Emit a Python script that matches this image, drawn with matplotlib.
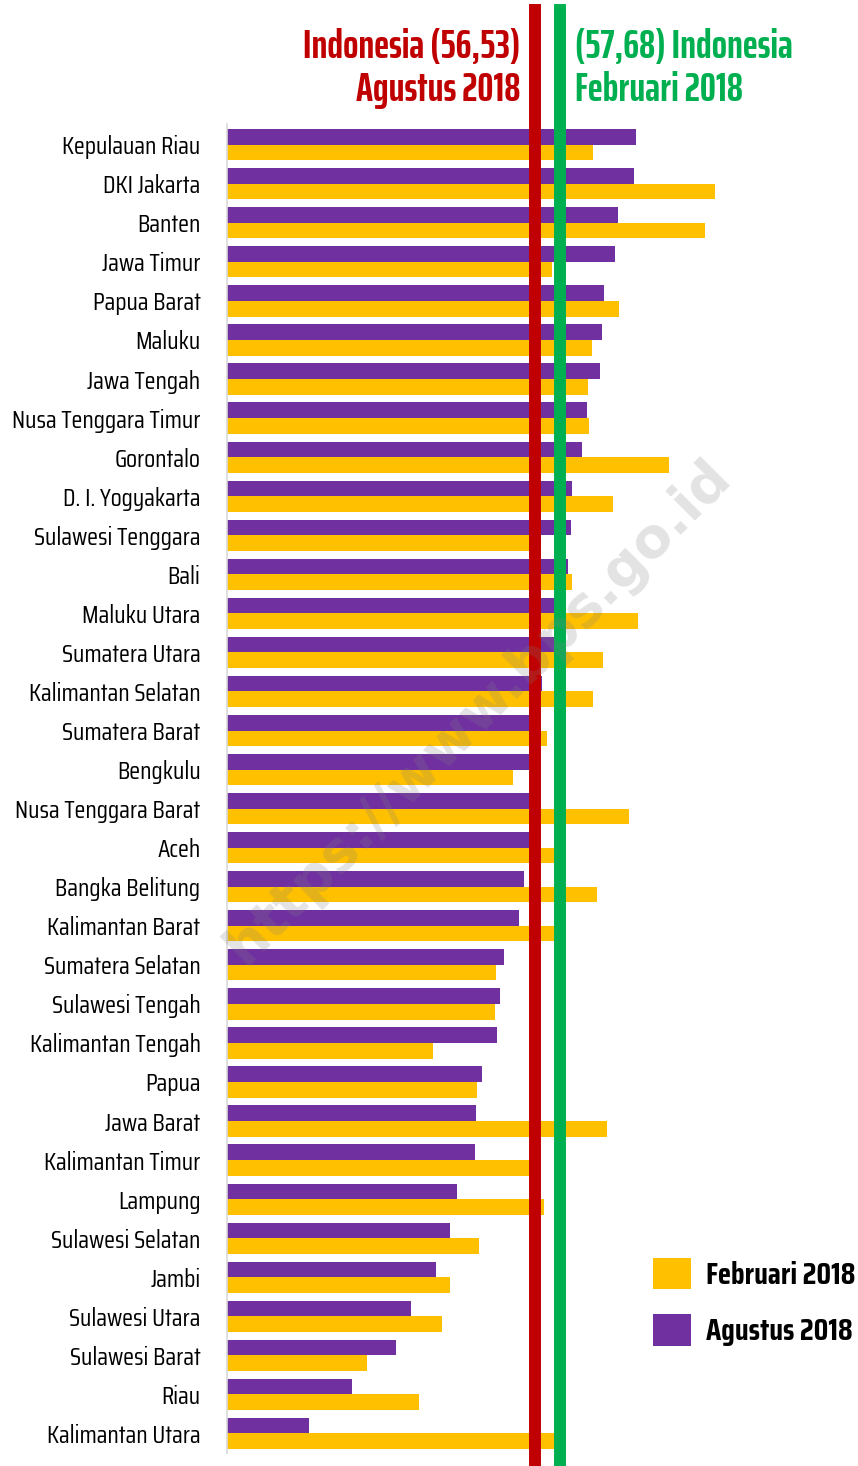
import matplotlib
matplotlib.use('Agg')
import matplotlib.pyplot as plt

provinces = ['Kepulauan Riau', 'DKI Jakarta', 'Banten', 'Jawa Timur', 'Papua Barat',
             'Maluku', 'Jawa Tengah', 'Nusa Tenggara Timur', 'Gorontalo', 'D. I. Yogyakarta',
             'Sulawesi Tenggara', 'Bali', 'Maluku Utara', 'Sumatera Utara', 'Kalimantan Selatan',
             'Sumatera Barat', 'Bengkulu', 'Nusa Tenggara Barat', 'Aceh', 'Bangka Belitung',
             'Kalimantan Barat', 'Sumatera Selatan', 'Sulawesi Tengah', 'Kalimantan Tengah', 'Papua',
             'Jawa Barat', 'Kalimantan Timur', 'Lampung', 'Sulawesi Selatan', 'Jambi',
             'Sulawesi Utara', 'Sulawesi Barat', 'Riau', 'Kalimantan Utara']

agustus = [61.13, 61.04, 60.29, 60.17, 59.67, 59.58, 59.48, 58.89, 58.68, 58.20,
           58.15, 58.04, 57.50, 57.45, 56.85, 56.50, 56.40, 56.40, 56.35, 56.04,
           55.82, 55.11, 54.94, 54.80, 54.13, 53.86, 53.82, 52.97, 52.65, 52.03,
           50.88, 50.20, 48.20, 46.27]

februari = [59.18, 64.71, 64.27, 57.30, 60.33, 59.12, 58.94, 59.00, 62.61, 60.06,
            56.80, 58.20, 61.23, 59.62, 59.18, 57.08, 55.52, 60.79, 57.50, 59.35,
            57.50, 54.76, 54.71, 51.89, 53.91, 59.80, 56.40, 56.94, 54.00, 52.65,
            52.29, 48.91, 51.27, 57.50]

indo_agustus = 56.53
indo_februari = 57.68

purple = '#7030A0'
yellow = '#FFC000'
red = '#C00000'
green = '#00B050'
narrow = ['Saira ExtraCondensed', 'DejaVu Sans']
cond = ['Saira Condensed', 'DejaVu Sans']

fig = plt.figure(figsize=(8.58, 14.66), dpi=100)
ax = fig.add_axes([227 / 858, 13 / 1466, 631 / 858, 1329 / 1466])

y = list(range(len(provinces)))
ba = ax.barh([i - 0.2 for i in y], agustus, height=0.4, color=purple, zorder=2)
bf = ax.barh([i + 0.2 for i in y], februari, height=0.4, color=yellow, zorder=2)

# national reference lines run over the whole figure height
ax.axvline(indo_agustus, ymin=-0.02, ymax=1.086, color=red, lw=8.6, clip_on=False, zorder=4)
ax.axvline(indo_februari, ymin=-0.02, ymax=1.086, color=green, lw=8.6, clip_on=False, zorder=4)

ax.set_xlim(42.53, 71.21)
ax.set_ylim(33.5, -0.53)
ax.set_yticks(y)
ax.set_yticklabels(provinces, family=cond, fontsize=18)
ax.tick_params(axis='y', length=0, pad=19)
ax.set_xticks([])
for s in ['top', 'right', 'bottom']:
    ax.spines[s].set_visible(False)
ax.spines['left'].set_color('#D9D9D9')
ax.spines['left'].set_linewidth(1.2)

title_font = dict(family=narrow, fontweight='bold', fontsize=29, va='center')
fig.text(520 / 858, 1 - 47 / 1466, 'Indonesia (56,53)', color=red, ha='right', **title_font)
fig.text(520 / 858, 1 - 90 / 1466, 'Agustus 2018', color=red, ha='right', **title_font)
fig.text(575 / 858, 1 - 47 / 1466, '(57,68) Indonesia', color=green, ha='left', **title_font)
fig.text(575 / 858, 1 - 90 / 1466, 'Februari 2018', color=green, ha='left', **title_font)

# watermark
fig.text(478 / 858, 1 - 712 / 1466, 'https://www.bps.go.id', color='gray', alpha=0.22,
         rotation=45, ha='center', va='center', fontsize=40, fontweight='bold', zorder=10)

fig.legend([bf, ba], ['Februari 2018', 'Agustus 2018'], loc='center left',
           bbox_to_anchor=(625 / 858, 1 - 1302 / 1466), frameon=False,
           prop={'family': cond, 'weight': 'bold', 'size': 22},
           handlelength=1.25, handleheight=1.2, labelspacing=0.8, handletextpad=0.5)

fig.savefig('out.png', dpi=100)
